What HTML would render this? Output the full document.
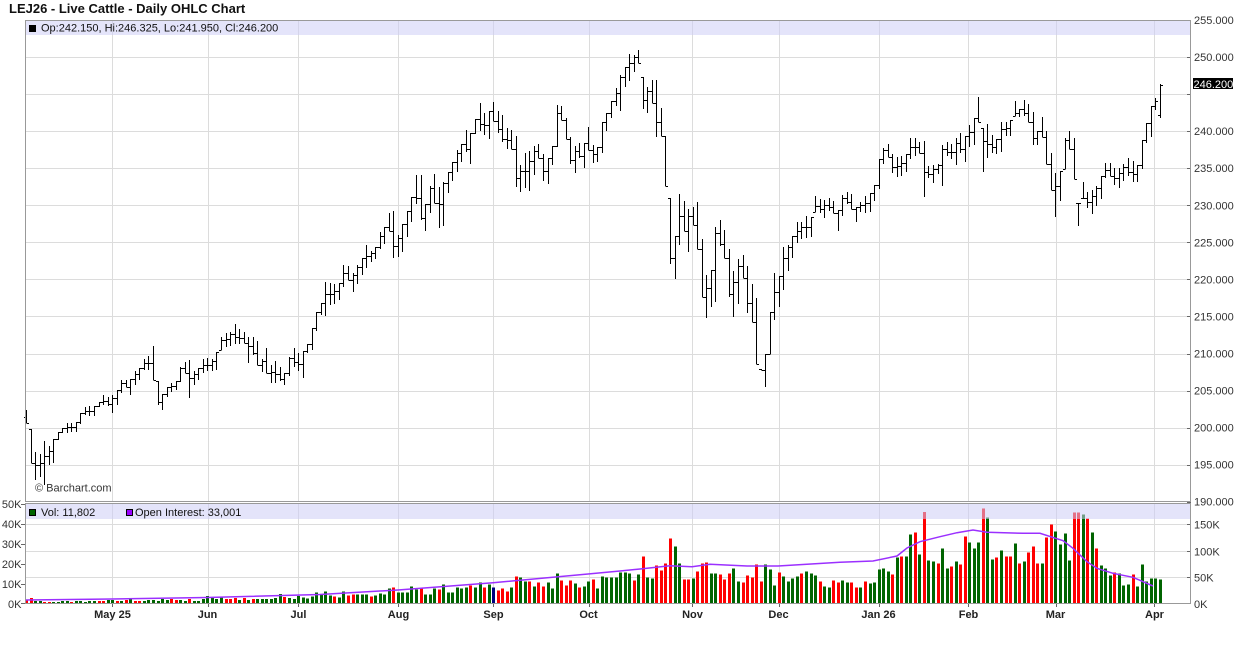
<!DOCTYPE html>
<html><head><meta charset="utf-8">
<style>
html,body{margin:0;padding:0;background:#fff;width:1236px;height:645px;overflow:hidden;}
svg{display:block;}
text{font-family:"Liberation Sans",Arial,sans-serif;}
</style></head>
<body>
<svg id="c" width="1236" height="645" viewBox="0 0 1236 645" xmlns="http://www.w3.org/2000/svg">
<rect width="1236" height="645" fill="#fff"/>
<g id="grid" stroke="#dcdcdc" stroke-width="1" fill="none" shape-rendering="crispEdges"></g>
<g id="vol" shape-rendering="crispEdges"></g>
<polyline id="oi" fill="none" stroke="#9b30ff" stroke-width="1.5" points=""/>
<g id="price" stroke="#000" stroke-width="1" fill="none" shape-rendering="crispEdges"></g>
<rect x="26" y="21" width="1164" height="14" fill="rgba(205,205,245,0.55)"/>
<rect x="26" y="504" width="1164" height="15" fill="rgba(205,205,245,0.55)"/>
<g id="axes" stroke="#666" stroke-width="1" fill="none" shape-rendering="crispEdges"></g>
<rect x="25.5" y="20.5" width="1165" height="481" fill="none" stroke="#999" shape-rendering="crispEdges"/>
<rect x="25.5" y="503.5" width="1165" height="100" fill="none" stroke="#999" shape-rendering="crispEdges"/>

<text x="9" y="13" font-size="13" font-weight="bold" fill="#111">LEJ26 - Live Cattle - Daily OHLC Chart</text>
<rect x="29" y="25" width="7" height="7" fill="#000"/>
<text x="41" y="31.5" font-size="11" fill="#111">Op:242.150, Hi:246.325, Lo:241.950, Cl:246.200</text>
<text x="35" y="491.5" font-size="11" fill="#333">© Barchart.com</text>

<rect x="29.5" y="509.5" width="6" height="6" fill="#006400" stroke="#000"/>
<text x="41" y="516" font-size="11" fill="#111">Vol: 11,802</text>
<rect x="126.5" y="509.5" width="6" height="6" fill="#9900ff" stroke="#000"/>
<text x="135" y="516" font-size="11" fill="#111">Open Interest: 33,001</text>

<g font-size="11" fill="#333">
<text x="1194" y="505.7">190.000</text>
<text x="1194" y="468.6">195.000</text>
<text x="1194" y="431.6">200.000</text>
<text x="1194" y="394.5">205.000</text>
<text x="1194" y="357.5">210.000</text>
<text x="1194" y="320.4">215.000</text>
<text x="1194" y="283.4">220.000</text>
<text x="1194" y="246.3">225.000</text>
<text x="1194" y="209.3">230.000</text>
<text x="1194" y="172.2">235.000</text>
<text x="1194" y="135.2">240.000</text>
<text x="1194" y="61.1">250.000</text>
<text x="1194" y="24">255.000</text>
</g>
<rect x="1193" y="78" width="40" height="11" fill="#000"/>
<text x="1193.5" y="87.8" font-size="11" fill="#fff">246.200</text>

<g font-size="11" fill="#333" text-anchor="end">
<text x="21.5" y="508">50K</text>
<text x="21.5" y="528">40K</text>
<text x="21.5" y="548">30K</text>
<text x="21.5" y="568">20K</text>
<text x="21.5" y="588">10K</text>
<text x="21.5" y="608">0K</text>
</g>
<g font-size="11" fill="#333">
<text x="1194" y="528.5">150K</text>
<text x="1194" y="555.5">100K</text>
<text x="1194" y="581.5">50K</text>
<text x="1194" y="608">0K</text>
</g>
<g font-size="11" font-weight="bold" fill="#222" text-anchor="middle">
<text x="112.5" y="618">May 25</text>
<text x="207.5" y="618">Jun</text>
<text x="298.5" y="618">Jul</text>
<text x="398.5" y="618">Aug</text>
<text x="493.5" y="618">Sep</text>
<text x="588.5" y="618">Oct</text>
<text x="692.5" y="618">Nov</text>
<text x="778.5" y="618">Dec</text>
<text x="878.5" y="618">Jan 26</text>
<text x="968.5" y="618">Feb</text>
<text x="1055.5" y="618">Mar</text>
<text x="1154.5" y="618">Apr</text>
</g>
</svg>
<script>
(function(){
var NS="http://www.w3.org/2000/svg";
function el(tag,attrs,parent){var e=document.createElementNS(NS,tag);for(var k in attrs)e.setAttribute(k,attrs[k]);parent.appendChild(e);return e;}
var P=[
[410,423.3],[429,463.3],[451.7,480],[454,476.7],[441,485],[446,465],[439.3,463.3],[431.7,440],[428.3,433.3],[423.3,432.7],
[422.7,431.7],[421.7,431.7],[413.3,424],[406.7,415],[406,415.7],[405.7,415.7],[401.7,406.7],[395,405],[396.7,406],[395,412.7],
[390,405],[380,393.3],[380,386.7],[379.3,395],[371,385],[367.7,380],[359.3,370],[355.7,370],[346,380],[381,405],
[394.3,410],[386.7,396.7],[382.7,391.7],[381,390],[366.7,381.7],[361.7,373.3],[360,397.7],[371,385],[368.3,380],[359.3,372.7],
[358.3,371],[359.3,371],[352.3,370],[337.3,350],[333.3,347.3],[331.7,346],[324,344.3],[329.3,344.3],[331.7,343.3],[337.3,362.7],
[336.7,355],[340.7,365],[359.3,371.7],[348.3,372.7],[365,382.7],[361,382.7],[366.7,380.7],[373.3,385],[356.7,376],[348.3,366.7],
[353.3,370.7],[350.7,377.7],[344.3,353.3],[328.3,350],[312,331],[303.3,315],[282.3,316],[283.3,305],[284.3,304.3],[282.7,300],
[265,286.7],[266,280],[272.7,291.7],[265,284.3],[258.3,275],[245,267.7],[250.7,261.7],[247.3,259.3],[232.3,249.3],[227.3,244],
[213.3,230.7],[211,258.3],[235,257.3],[224,252.3],[211,236.7],[196.7,221.7],[175,204],[175,220],[204.3,230.7],[185.7,212.7],
[174,202.7],[186.7,227.7],[181.7,225.7],[171.7,193.3],[161.7,180.7],[150,171.7],[144,161.7],[130,151.7],[133.3,164.3],[119,134],
[102.7,130.7],[112.7,135],[110.7,139],[102,120.7],[111,133.3],[115,142.3],[128.3,149.3],[130,149],[136,186.7],[165,191.7],
[153.3,188.3],[151,190.7],[146,175],[144,158.3],[154.3,180.7],[158.3,184],[146,165],[105,146.7],[106,120],[118.3,139.3],
[137.3,164.3],[146,173.3],[143.3,158.3],[143.3,167.7],[126.7,150],[145.3,162.7],[146.7,161.7],[121.7,152.7],[113.3,130.7],[101,118.3],
[88.3,105.7],[75,110.7],[67.3,86.7],[54,80.7],[55,71.7],[50,63.3],[76.7,109.3],[86.7,113.3],[80,102.7],[80,137.3],
[108.3,135.7],[136,185.7],[198.3,264.3],[236,279.3],[194,245],[201,230.7],[209.3,251.7],[206.7,225],[202.3,249.3],[239,297.3],
[275,318.3],[270,306.7],[226.7,301.7],[220,245.7],[230,257.7],[249,296.7],[271,317.3],[259,304.3],[255,277.7],[266,313.3],
[284,321.7],[297.7,364.3],[369,369.5],[354,386.7],[311.7,354.3],[272.7,320],[276,307.3],[246.7,290],[245,270.7],[236,258.3],
[221.7,243.3],[221.7,239.3],[215.7,237.7],[216.7,236.7],[195.7,211.7],[199,213.3],[200,217.7],[198.3,210.7],[200.7,213.3],[210,230.7],
[195,215.7],[191.7,204.3],[194,209.3],[207.3,221.7],[201.7,212.3],[195.7,213.3],[192.7,212.3],[185,200.7],[159,189.3],[148.3,164.3],
[144,156.7],[154.3,172.7],[157.3,177.3],[156,175.7],[154.3,171.7],[138.3,159.3],[138.3,156],[141.7,152.7],[141,196.7],[165.7,177.7],
[165,183.3],[164.3,174],[145,185.7],[142.3,155.7],[144,159.3],[138.3,165],[132.7,152.7],[136,161.7],[125,146.7],[118.3,145],
[97.3,121.7],[127.7,171.7],[124,157.7],[135,153.3],[139.3,154],[121.7,151.7],[121.7,135.7],[120,135.7],[101,115.7],[109,117.3],
[100,115.7],[104,122.3],[112.3,145],[131,145],[117.3,136.7],[131,164.3],[153.3,190],[172.7,216.7],[170.7,200.7],[137.7,169.3],
[131,149.3],[137.7,178.7],[203.3,225.7],[182.3,197.7],[192,208.3],[190,214],[186,205.7],[176,199],[162.7,178.3],[163.3,176],
[168.3,185],[168.3,187.7],[164.3,180.7],[158.3,176],[160.7,182.3],[165,182.3],[140,169],[123.3,142.7],[106,136.7],[98.3,110],
[84.3,117.7]];
var V=[3,5,2,2,1,1,1,1,2,2,
1,2,2,1,2,2,2,2,3,3,
2,2,3,4,2,2,2,3,3,2,
4,3,4,3,3,2,4,2,2,4,
7,5,4,6,4,4,5,3,5,3,
4,4,4,4,4,5,9,6,5,4,
7,5.3,4.3,6.3,10.3,8.3,11.3,7.3,6.3,5.3,
11.3,7.3,8.3,8.3,8.3,8.3,6.3,7.3,9.3,8.3,
14.3,15.3,10.3,10.3,10.3,16.3,13.3,14.3,8.3,8.3,
14.3,13.3,18.3,10.3,10.3,15.3,14.3,15.3,17.3,15.3,
20.3,15.3,18.3,15.3,12.3,14.3,11.3,15.3,26.3,25.3,
21.3,21.3,16.3,20.3,16.3,20.3,14.3,29.3,22.3,17.3,
22.3,19.3,15.3,16.3,21.3,23.3,14.3,26.3,25.3,25.3,
25.3,30.3,30.3,29.3,22.3,28.3,46.3,25.3,24.3,37.3,
32.3,39.3,64.3,56.3,39.3,23.3,23.3,24.3,31.3,39.3,
40.3,29.3,29.3,28.3,23.3,29.3,34.3,21.3,20.3,27.3,
25.3,38.3,21.3,38.3,33.3,17.3,30.3,26.3,21.3,24.3,
26.3,29.3,31.3,29.3,27.3,21.3,16.3,15.3,22.3,20.3,
22.3,20.3,20.3,15.3,15.3,21.3,19.3,20.3,33.3,34.3,
31.3,28.3,45.3,46.3,46.3,68.3,70.3,48.3,91,42.3,
41.3,39.3,54.3,34.3,36.3,41.3,38.3,66.3,60.3,54.3,
60.3,94.3,85.3,43.3,45.3,52.3,46.3,46.3,59.3,39.3,
41.3,50.3,56.3,39.3,39.3,65.3,78.3,71.3,58.3,69.3,
42.3,90.3,90.3,88.3,84.3,70.3,54.3,37.3,34.3,27.3,
30.3,29.3,17.3,18.3,28.3,16.3,38.3,21.3,24.3,24.3,
23.6];
var C="rrggrrgggg"+"rgggggrrgg"+"rgrgrrgggg"+"ggrrggrggg"+"ggggrrrgrg"+"rggggggrgg"+"ggggggggrg"+"grrgggrggg"+"grgggggrgg"+"grggggggrg"+
"grgnrrrgrg"+"grgrrgggrr"+"rgrggrgggg"+"ggggrgrggr"+"rrrggrrgrr"+"rggrrrggrr"+"rrrgggrggg"+"grgggrggrr"+"ggrrgrgggg"+"grgrggrgrg"+
"grggrgrrgg"+"grggrgrrgr"+"grrrgrrggg"+"grrgrgrggg"+"rgggrggggg"+"g";
var col={g:"#006400",r:"#ff0000",n:"#000080"};
var N=P.length;
function bx(i){return Math.round(26+i*4.535);}
var g=document.getElementById("grid");
for(var k=1;k<=12;k++){var y=Math.round(501.7-37.05*k)+0.5;el("line",{x1:26,x2:1190,y1:y,y2:y},g);}
var mx=[112,207.5,298,398,493,588.5,692,778.5,878.5,968.3,1055.7,1154.3];
mx.forEach(function(x){var xx=Math.round(x)+0.5;el("line",{x1:xx,x2:xx,y1:21,y2:501},g);el("line",{x1:xx,x2:xx,y1:504,y2:603},g);});
[524.5,551.5,577.5].forEach(function(y){el("line",{x1:26,x2:1190,y1:y,y2:y},g);});
var vg=document.getElementById("vol");
for(var i=0;i<N;i++){var h=V[i];var x=bx(i)-1;el("rect",{x:x,y:(603-h).toFixed(1),width:3,height:h.toFixed(1),fill:col[C[i]]||"#006400"},vg);}
var oi=[[26,600],[112,599],[207,597.5],[320,594.5],[398,590],[493,582.7],[588,574],[620,571],[640,569],[670,565.7],[692,566.7],[710,564.3],[747,566],[778,566],[840,562.3],[873,561],[897,556],[907,548],[920,541.7],[940,536.7],[957,532.7],[973,530],[987,532.3],[1023,533.3],[1040,533.3],[1063,540.7],[1073,548.3],[1087,561.7],[1097,568.3],[1113,573.3],[1133,577.3],[1153,586]];
document.getElementById("oi").setAttribute("points",oi.map(function(p){return p[0]+","+p[1];}).join(" "));
var pg=document.getElementById("price");
var d="";var prevC=null;
function cl(v,a,b){return Math.max(a,Math.min(b,v));}
for(var i=0;i<N;i++){
 var hi=P[i][0],lo=P[i][1];var x=bx(i)+0.5;
 var o,c;
 if(i==N-1){o=115.3;c=85.2;}
 else{
  o=(prevC===null)?(hi+lo)/2:cl(prevC,hi,lo);
  var nm=(P[i+1][0]+P[i+1][1])/2;c=cl(nm,hi,lo);
 }
 prevC=c;
 var lo2=lo; if(lo2-hi<1)lo2=hi+1;
 d+="M"+x+" "+Math.round(hi)+"V"+Math.round(lo2);
 var oy=Math.round(o)+0.5,cy=Math.round(c)+0.5;
 d+="M"+(x-2.5)+" "+oy+"H"+x;
 d+="M"+x+" "+cy+"H"+(x+2.5);
}
el("path",{d:d},pg);
var ag=document.getElementById("axes");
for(var k=0;k<=13;k++){var y=Math.round(501.7-37.05*k)+0.5;el("line",{x1:1187,x2:1191,y1:y,y2:y},ag);}
[504,524,544,564,584,603].forEach(function(y){el("line",{x1:21,x2:25,y1:y+0.5,y2:y+0.5},ag);});
[524.5,551.5,577.5,603.5].forEach(function(y){el("line",{x1:1187,x2:1191,y1:y,y2:y},ag);});
mx.forEach(function(x){var xx=Math.round(x)+0.5;el("line",{x1:xx,x2:xx,y1:604,y2:607},ag);});
})();
</script>
</body></html>
